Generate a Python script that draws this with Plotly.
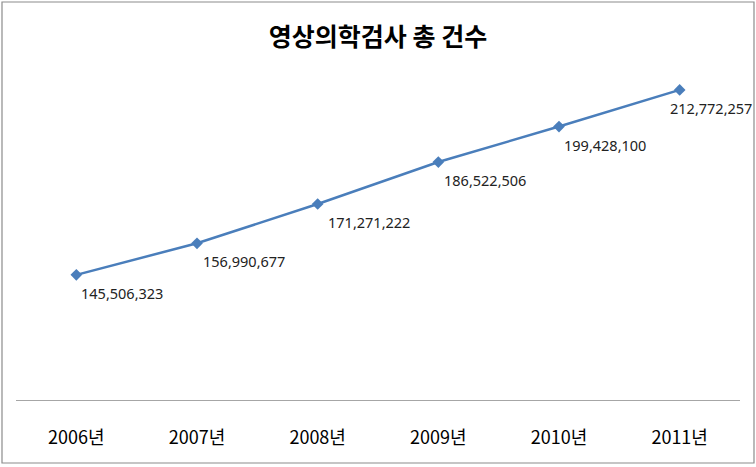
import plotly.graph_objects as go

years = ["2006년", "2007년", "2008년", "2009년", "2010년", "2011년"]
counts = [145506323, 156990677, 171271222, 186522506, 199428100, 212772257]
label_xshift = [3, 4, 8, 4, 3, -12]

W, H = 756, 467
L, R, T, B = 16, 16, 70, 67
pw, ph = W - L - R, H - T - B

fig = go.Figure()
fig.add_trace(go.Scatter(
    x=years, y=counts, mode="lines+markers",
    line=dict(color="#4a7ebb", width=2.5),
    marker=dict(symbol="diamond", size=9, color="#4a7ebb"),
    hoverinfo="skip", cliponaxis=False,
))

for yr, v, xs in zip(years, counts, label_xshift):
    fig.add_annotation(
        x=yr, y=v, text=f"{v:,}", showarrow=False,
        xanchor="left", yanchor="middle", xshift=xs, yshift=-18,
        font=dict(family="Noto Sans, sans-serif", size=14.5, color="#222222"),
    )

def px(xp):
    return (xp - L) / pw

def py(yp):
    return (H - B - yp) / ph

fig.add_shape(type="rect", xref="paper", yref="paper",
              x0=px(2), x1=px(754), y0=py(463), y1=py(2),
              line=dict(color="#8c8c8c", width=1.2), layer="below")

fig.update_layout(
    width=W, height=H,
    margin=dict(l=L, r=R, t=T, b=B),
    paper_bgcolor="white", plot_bgcolor="white",
    showlegend=False,
    title=dict(text="<b>영상의학검사 총 건수</b>", x=0.5, xanchor="center",
               y=1 - 37 / H, yanchor="middle",
               font=dict(family="Noto Sans CJK KR", size=25, color="#000000")),
    xaxis=dict(
        showline=True, linecolor="#a6a6a6", linewidth=1,
        showgrid=False, zeroline=False,
        ticks="outside", ticklen=21, tickcolor="rgba(0,0,0,0)",
        tickfont=dict(family="Noto Sans CJK KR", size=18, color="#000000"),
        range=[-0.5, 5.5],
    ),
    yaxis=dict(
        range=[100e6, 220e6], visible=False, showgrid=False, zeroline=False,
    ),
)

fig.write_html("out.html")
